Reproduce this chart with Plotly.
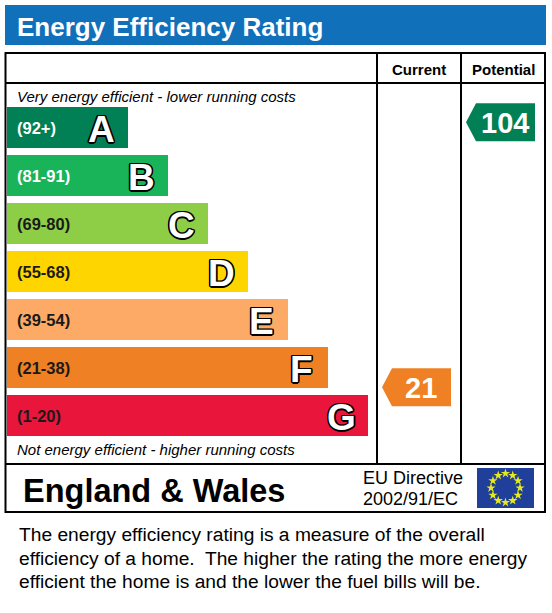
import math
import plotly.graph_objects as go

# ---- data ----
bands = ["A", "B", "C", "D", "E", "F", "G"]
band_ranges = ["(92+)", "(81-91)", "(69-80)", "(55-68)", "(39-54)", "(21-38)", "(1-20)"]
band_colors = ["#008054", "#19b459", "#8dce46", "#ffd500", "#fcaa65", "#ef8023", "#e9153b"]
range_text_colors = ["#ffffff", "#ffffff", "#1a1a1a", "#1a1a1a", "#1a1a1a", "#1a1a1a", "#1a1a1a"]
current_score = 21
potential_score = 104
current_color = "#ef8023"
potential_color = "#008054"

FONT = "Liberation Sans, Arial, sans-serif"
W, H = 552, 613

# layout constants (pixel space)
BAR_X0 = 7
ROW0 = 107
PITCH = 48
BAR_H = 41
BAR_W0 = 121
BAR_STEP = 40
COL1, COL2, RIGHT, LEFT = 377, 461, 545, 5.5
TOP, HEAD, FOOT, BOTTOM = 53, 83, 464, 512


def score_to_y(v):
    # linear score scale on the vertical axis of the chart
    return 454.3 - 3.193 * v


fig = go.Figure()

row_centers = [ROW0 + PITCH * i + BAR_H / 2 for i in range(len(bands))]
bar_lengths = [BAR_W0 + BAR_STEP * i for i in range(len(bands))]

fig.add_trace(go.Bar(
    orientation="h", y=row_centers, x=bar_lengths, base=BAR_X0, width=BAR_H,
    marker=dict(color=band_colors, line=dict(width=0)),
    hoverinfo="skip", showlegend=False,
))

shapes = []
annotations = []

# title bar
shapes.append(dict(type="rect", x0=5, x1=546, y0=5, y1=45, fillcolor="#1170ba", line=dict(width=0), layer="below"))
annotations.append(dict(x=15, y=26.5, text="Energy Efficiency Rating", showarrow=False, xanchor="left", yanchor="middle",
                        font=dict(family=FONT, size=26, color="white", weight="bold")))

# table borders
line_black = dict(color="black", width=2)
shapes.append(dict(type="rect", x0=LEFT, x1=RIGHT, y0=TOP, y1=BOTTOM, line=line_black))
shapes.append(dict(type="line", x0=COL1, x1=COL1, y0=TOP, y1=FOOT, line=line_black))
shapes.append(dict(type="line", x0=COL2, x1=COL2, y0=TOP, y1=FOOT, line=line_black))
shapes.append(dict(type="line", x0=LEFT, x1=RIGHT, y0=HEAD, y1=HEAD, line=line_black))
shapes.append(dict(type="line", x0=LEFT, x1=RIGHT, y0=FOOT, y1=FOOT, line=line_black))

# headers
annotations.append(dict(x=(COL1 + COL2) / 2, y=69, text="Current", showarrow=False, xanchor="center", yanchor="middle",
                        font=dict(family=FONT, size=15, color="black", weight="bold")))
annotations.append(dict(x=(COL2 + RIGHT) / 2, y=69, text="Potential", showarrow=False, xanchor="center", yanchor="middle",
                        font=dict(family=FONT, size=15, color="black", weight="bold")))

annotations.append(dict(x=15, y=96.5, text="Very energy efficient - lower running costs", showarrow=False,
                        xanchor="left", yanchor="middle",
                        font=dict(family=FONT, size=15, color="black", style="italic")))
annotations.append(dict(x=15, y=449, text="Not energy efficient - higher running costs", showarrow=False,
                        xanchor="left", yanchor="middle",
                        font=dict(family=FONT, size=15, color="black", style="italic")))

outline = ("-1.3px -1.3px 0 #000, 1.3px -1.3px 0 #000, -1.3px 1.3px 0 #000, 1.3px 1.3px 0 #000, "
           "0 1.5px 0 #000, 0 -1.5px 0 #000, 1.5px 0 0 #000, -1.5px 0 0 #000")

for i, (b, r, tc) in enumerate(zip(bands, band_ranges, range_text_colors)):
    yc = row_centers[i]
    annotations.append(dict(x=15, y=yc, text=r, showarrow=False, xanchor="left", yanchor="middle",
                            font=dict(family=FONT, size=16.5, color=tc, weight="bold")))
    annotations.append(dict(x=BAR_X0 + bar_lengths[i] - 27, y=yc + 1.5, text=b, showarrow=False,
                            xanchor="center", yanchor="middle",
                            font=dict(family=FONT, size=37, color="white", weight="bold", shadow=outline)))


def add_arrow(score, x_tip, color):
    yc = score_to_y(score)
    h = 38
    body = x_tip + 10
    right = x_tip + 69
    xs = [x_tip, body, right, right, body, x_tip]
    ys = [yc, yc - h / 2, yc - h / 2, yc + h / 2, yc + h / 2, yc]
    fig.add_trace(go.Scatter(x=xs, y=ys, mode="lines", fill="toself", fillcolor=color,
                             line=dict(width=0, color=color), hoverinfo="skip", showlegend=False))
    annotations.append(dict(x=(body + right) / 2 - 1, y=yc + 1, text=str(score), showarrow=False,
                            xanchor="center", yanchor="middle",
                            font=dict(family=FONT, size=29, color="white", weight="bold")))


add_arrow(current_score, 382, current_color)
add_arrow(potential_score, 466, potential_color)

# footer
annotations.append(dict(x=21, y=491, text="England &amp; Wales", showarrow=False, xanchor="left", yanchor="middle",
                        font=dict(family=FONT, size=32.5, color="black", weight="bold")))
annotations.append(dict(x=361, y=477.7, text="EU Directive", showarrow=False, xanchor="left", yanchor="middle",
                        font=dict(family=FONT, size=18, color="black")))
annotations.append(dict(x=361, y=498.7, text="2002/91/EC", showarrow=False, xanchor="left", yanchor="middle",
                        font=dict(family=FONT, size=18, color="black")))

# EU flag
shapes.append(dict(type="rect", x0=477, x1=534, y0=468, y1=508, fillcolor="#1f3f9a", line=dict(width=0), layer="below"))
cx, cy, rad = 505.5, 488, 14.5
sx = [cx + rad * math.cos(2 * math.pi * k / 12) for k in range(12)]
sy = [cy + rad * math.sin(2 * math.pi * k / 12) for k in range(12)]
fig.add_trace(go.Scatter(x=sx, y=sy, mode="markers", marker=dict(symbol="star", size=7, color="#e6ea1c", line=dict(width=0)),
                         hoverinfo="skip", showlegend=False))

# description
desc_lines = [
    "The energy efficiency rating is a measure of the overall",
    "efficiency of a home.  The higher the rating the more energy",
    "efficient the home is and the lower the fuel bills will be.",
]
for j, t in enumerate(desc_lines):
    annotations.append(dict(x=17, y=534.5 + 23.5 * j, text=t.replace("  ", "&nbsp; "), showarrow=False,
                            xanchor="left", yanchor="middle",
                            font=dict(family=FONT, size=19.2, color="black")))

fig.update_layout(
    width=W, height=H, margin=dict(l=0, r=0, t=0, b=0),
    paper_bgcolor="white", plot_bgcolor="white",
    xaxis=dict(range=[0, W], visible=False, fixedrange=True),
    yaxis=dict(range=[H, 0], visible=False, fixedrange=True),
    shapes=shapes, annotations=annotations, showlegend=False, bargap=0,
)

fig.write_html("out.html", config={"displayModeBar": False},
               post_script="document.body.style.margin='0';document.body.style.overflow='hidden';")
